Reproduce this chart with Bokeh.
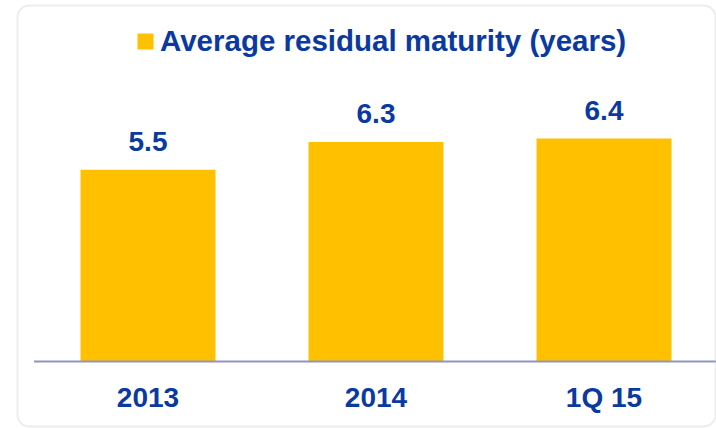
from bokeh.plotting import figure
from bokeh.models import (Range1d, Legend, LegendItem, BoxAnnotation,
                          ColumnDataSource)
from bokeh.core.properties import value
from bokeh.embed import file_html
from bokeh.resources import INLINE

# ---- data ----
categories = ["2013", "2014", "1Q 15"]
maturity = [5.5, 6.3, 6.4]
series_name = "Average residual maturity (years)"

# ---- style / layout ----
BAR = "#FFC000"
BLUE = "#0A3A9F"
FONT = "Liberation Sans"

W, H = 716, 428
PX_X = 228.0       # px per category slot
PX_Y = 34.85       # px per year
X0_PX = 147.5      # px position of first category centre
Y0_PX = 361.0      # px position of the zero line (from top)

idx = list(range(len(categories)))
src = ColumnDataSource(dict(x=idx, top=maturity, cat=categories,
                            zero=[0] * len(categories),
                            lab=[f"{v:.1f}" for v in maturity]))

p = figure(width=W, height=H, output_backend="svg", toolbar_location=None,
           x_range=Range1d(-X0_PX / PX_X, (W - X0_PX) / PX_X),
           y_range=Range1d(-(H - Y0_PX) / PX_Y, Y0_PX / PX_Y),
           x_axis_location=None, y_axis_location=None,
           min_border=0)
p.outline_line_color = None
p.grid.visible = False
p.background_fill_color = "white"
p.border_fill_color = "white"

bars = p.vbar(x="x", top="top", width=0.592, bottom=0, source=src,
              fill_color=BAR, line_color=None)

# category baseline spanning the category slots
p.segment(x0=[-0.5], x1=[len(categories) - 0.5], y0=[0], y1=[0],
          line_color="#8E96C2", line_width=2)

# value labels
p.text(x="x", y="top", text="lab", source=src, y_offset=-28,
       text_align="center", text_baseline="alphabetic",
       text_font=value(FONT), text_font_style="bold",
       text_font_size="28px", text_color=BLUE)

# category labels
p.text(x="x", y="zero", text="cat", source=src, y_offset=36,
       text_align="center", text_baseline="alphabetic",
       text_font=value(FONT), text_font_style="bold",
       text_font_size="28px", text_color=BLUE)

legend = Legend(items=[LegendItem(label=series_name, renderers=[bars])],
                location=(135, 370), orientation="horizontal",
                glyph_width=20, glyph_height=20, label_standoff=5,
                padding=0, margin=0, border_line_color=None,
                background_fill_alpha=0,
                label_text_font=FONT, label_text_font_style="bold",
                label_text_font_size="29.5px", label_text_color=BLUE)
p.add_layout(legend, "center")

frame_box = BoxAnnotation(left=17, right=715, top=5, bottom=426,
                          left_units="canvas", right_units="canvas",
                          top_units="canvas", bottom_units="canvas",
                          fill_alpha=0, line_color="#C4C4C4", line_width=2,
                          border_radius=12, level="overlay")
p.add_layout(frame_box)

open("out.html", "w").write(file_html(p, INLINE))
